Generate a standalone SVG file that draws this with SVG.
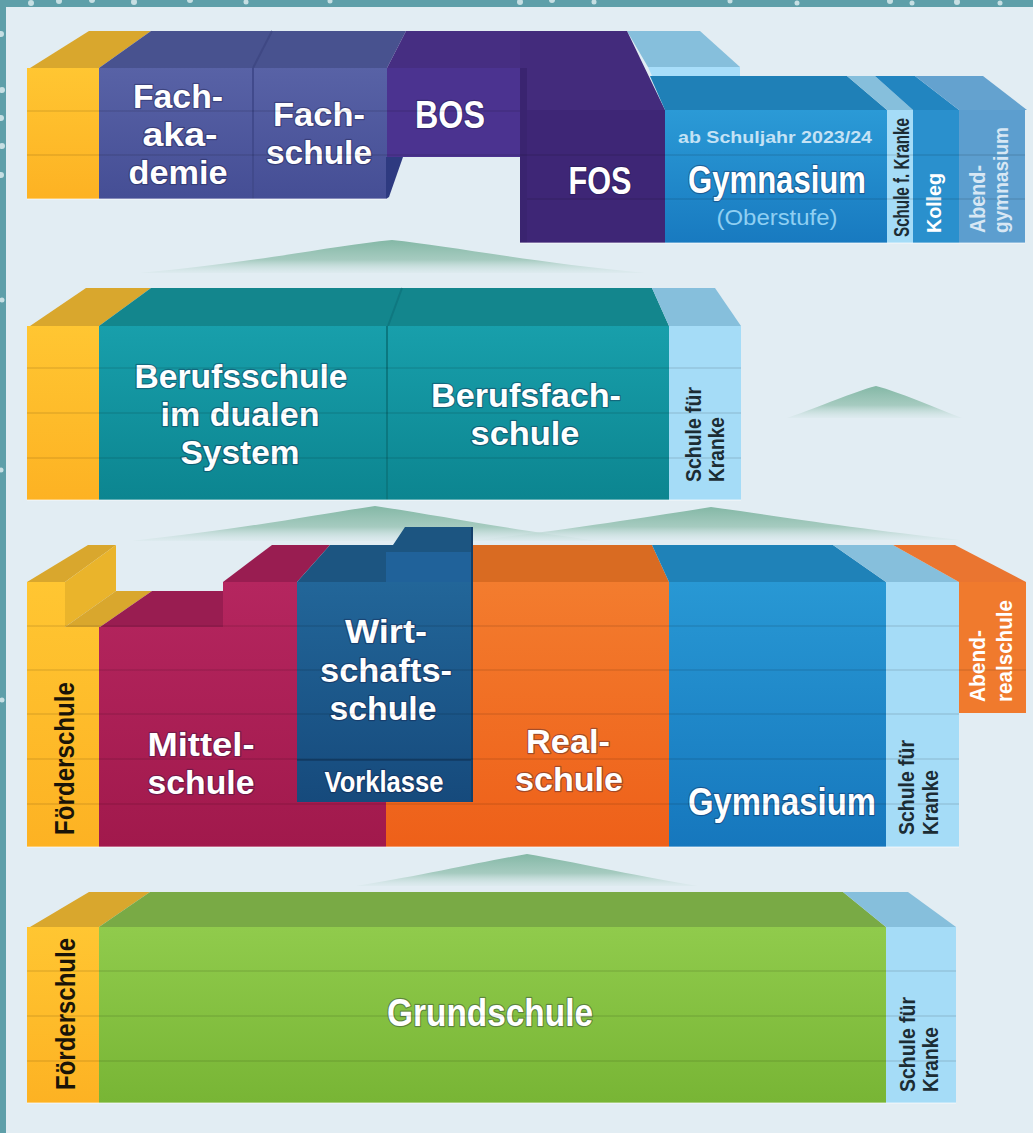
<svg xmlns="http://www.w3.org/2000/svg" width="1033" height="1133" viewBox="0 0 1033 1133">
<defs>
<linearGradient id="gY" x1="0" y1="0" x2="0" y2="1"><stop offset="0" stop-color="#ffc632"/><stop offset="1" stop-color="#fdb223"/></linearGradient>
<linearGradient id="gFA" x1="0" y1="0" x2="0" y2="1"><stop offset="0" stop-color="#5862a6"/><stop offset="1" stop-color="#454e95"/></linearGradient>
<linearGradient id="gGym1" x1="0" y1="0" x2="0" y2="1"><stop offset="0" stop-color="#2b9ad6"/><stop offset="1" stop-color="#187ac0"/></linearGradient>
<linearGradient id="gTeal" x1="0" y1="0" x2="0" y2="1"><stop offset="0" stop-color="#189fab"/><stop offset="1" stop-color="#0c8590"/></linearGradient>
<linearGradient id="gRed" x1="0" y1="0" x2="0" y2="1"><stop offset="0" stop-color="#b5265f"/><stop offset="1" stop-color="#a1194c"/></linearGradient>
<linearGradient id="gWi" x1="0" y1="0" x2="0" y2="1"><stop offset="0" stop-color="#226699"/><stop offset="1" stop-color="#164a7c"/></linearGradient>
<linearGradient id="gOr" x1="0" y1="0" x2="0" y2="1"><stop offset="0" stop-color="#f37c2e"/><stop offset="1" stop-color="#ee6019"/></linearGradient>
<linearGradient id="gGym3" x1="0" y1="0" x2="0" y2="1"><stop offset="0" stop-color="#2898d4"/><stop offset="1" stop-color="#1677bd"/></linearGradient>
<linearGradient id="gGr" x1="0" y1="0" x2="0" y2="1"><stop offset="0" stop-color="#90cb4c"/><stop offset="1" stop-color="#78b535"/></linearGradient>
<linearGradient id="gMound" x1="0" y1="0" x2="0" y2="1"><stop offset="0" stop-color="#84b8a6"/><stop offset="0.6" stop-color="#a6cbc0"/><stop offset="1" stop-color="#d6e7e9" stop-opacity="0.4"/></linearGradient>
</defs>
<style>
.lbl{font-family:"Liberation Sans Narrow","Liberation Sans",Arial,sans-serif;font-weight:bold;fill:#ffffff;text-anchor:middle;font-size:38px;stroke:rgba(20,20,60,0.35);stroke-width:2.5px;paint-order:stroke;stroke-linejoin:round}
.ml{font-size:33.5px}
.sm{font-size:17px;fill:#c4e2f5;stroke:none}
.ob{font-size:22px;font-weight:normal;fill:#8fcff2;stroke:none}
.vt{font-family:"Liberation Sans Narrow","Liberation Sans",Arial,sans-serif;font-weight:bold;font-size:22px;text-anchor:start}
.dk{fill:#1c2c34}
.fd{fill:#1a1408;font-size:28px}
.wh{fill:#ffffff}
.ag{fill:#d7e7f4}
.row{stroke:#000000;stroke-opacity:0.08;stroke-width:2;fill:none}
.edge{fill:#ffffff;fill-opacity:0.35}
.mound{fill:url(#gMound)}
</style>

<rect x="0" y="0" width="1033" height="1133" fill="#e2edf3"/>
<g id="frame">
<rect x="0" y="0" width="1033" height="7" fill="#5e9fa9"/>
<rect x="0" y="0" width="6" height="1133" fill="#5e9fa9"/>
<g fill="#c6dfe3">
<circle cx="31" cy="3" r="3"/><circle cx="59" cy="1" r="3"/><circle cx="92" cy="0" r="3"/><circle cx="134" cy="2" r="3"/><circle cx="190" cy="0" r="3"/><circle cx="246" cy="2" r="2.5"/><circle cx="330" cy="1" r="2.5"/><circle cx="520" cy="2" r="3"/><circle cx="552" cy="0" r="3"/><circle cx="594" cy="2" r="2.5"/><circle cx="730" cy="1" r="2.5"/><circle cx="797" cy="3" r="2.5"/><circle cx="890" cy="1" r="3"/><circle cx="912" cy="3" r="2.5"/><circle cx="957" cy="2" r="3"/><circle cx="1000" cy="3" r="2.5"/>
<circle cx="1" cy="34" r="3"/><circle cx="2" cy="90" r="3"/><circle cx="1" cy="118" r="3"/><circle cx="2" cy="146" r="3"/><circle cx="1" cy="175" r="3"/><circle cx="2" cy="300" r="2.5"/><circle cx="1" cy="470" r="2.5"/><circle cx="2" cy="700" r="2.5"/>
</g>
</g>

<g id="connectors">
<path class="mound" d="M140,273 C260,262 330,246 392,240 C450,246 530,262 645,273 Z"/>
<path class="mound" d="M787,418 C825,405 850,393 876,386 C902,393 928,405 962,418 Z"/>
<path class="mound" d="M132,541 C250,528 320,514 375,506 C430,514 500,528 600,541 Z"/>
<path class="mound" d="M480,540 C580,528 660,515 711,507 C770,515 850,528 960,540 Z"/>
<path class="mound" d="M356,886 C430,874 480,862 527,854 C575,862 625,874 698,886 Z"/>
</g>

<!-- TIER 1 -->
<g id="t1-back">
<polygon points="627,31 700,31 740,67 648,67" fill="#86bfdc"/>
<polygon points="648,67 740,67 740,76 652,76" fill="#a8defa"/>
</g>
<g id="t1-foerderschule">
<polygon points="30,68 89,31 151,31 99,68" fill="#d9a72d"/>
<rect x="27" y="68" width="72" height="131" fill="url(#gY)"/>
</g>
<g id="t1-fachakademie-fachschule">
<polygon points="99,68 151,31 406,31 387,68" fill="#48528f"/>
<line x1="253" y1="68" x2="272" y2="31" stroke="#3f4884" stroke-width="2"/>
<rect x="99" y="68" width="288" height="131" fill="url(#gFA)"/>
<line x1="253" y1="68" x2="253" y2="199" stroke="#414a8c" stroke-width="2"/>
<polygon points="386,157 403,157 389,197 386,199" fill="#2e3a80"/>
<text class="lbl ml"><tspan x="178" y="108" textLength="90" lengthAdjust="spacingAndGlyphs">Fach-</tspan><tspan x="180" y="146" textLength="75" lengthAdjust="spacingAndGlyphs">aka-</tspan><tspan x="178" y="184" textLength="99" lengthAdjust="spacingAndGlyphs">demie</tspan></text>
<text class="lbl ml"><tspan x="319" y="126" textLength="92" lengthAdjust="spacingAndGlyphs">Fach-</tspan><tspan x="319" y="164" textLength="106" lengthAdjust="spacingAndGlyphs">schule</tspan></text>
</g>
<g id="t1-bos">
<polygon points="387,68 406,31 520,31 520,68" fill="#462e82"/>
<rect x="387" y="68" width="133" height="89" fill="#4b3390"/>
<text class="lbl" x="450" y="128" textLength="70" lengthAdjust="spacingAndGlyphs">BOS</text>
</g>
<g id="t1-fos">
<polygon points="520,31 627,31 665,110 527,110 527,68 520,68" fill="#432b7c"/>
<rect x="520" y="68" width="7" height="175" fill="#3a2470"/>
<rect x="527" y="110" width="138" height="133" fill="#3e2676"/>
<text class="lbl" x="600" y="194" textLength="63" lengthAdjust="spacingAndGlyphs">FOS</text>
</g>
<g id="t1-gymnasium">
<polygon points="650,76 847,76 887,110 665,110" fill="#1f80b7"/>
<rect x="665" y="110" width="222" height="133" fill="url(#gGym1)"/>
<text class="lbl sm" x="775" y="143" textLength="194" lengthAdjust="spacingAndGlyphs">ab Schuljahr 2023/24</text>
<text class="lbl" x="777" y="193" textLength="178" lengthAdjust="spacingAndGlyphs">Gymnasium</text>
<text class="lbl ob" x="777" y="225" textLength="121" lengthAdjust="spacingAndGlyphs">(Oberstufe)</text>
</g>
<g id="t1-schule-kranke">
<polygon points="847,76 875,76 913,110 887,110" fill="#86bfdc"/>
<rect x="887" y="110" width="26" height="133" fill="#a5dcf7"/>
<text class="vt dk" transform="translate(909,237) rotate(-90)" textLength="119" lengthAdjust="spacingAndGlyphs">Schule f. Kranke</text>
</g>
<g id="t1-kolleg">
<polygon points="875,76 915,76 959,110 913,110" fill="#2285c0"/>
<rect x="913" y="110" width="46" height="133" fill="#2a90cd"/>
<text class="vt wh" style="font-size:20px" transform="translate(941,233) rotate(-90)" textLength="60" lengthAdjust="spacingAndGlyphs">Kolleg</text>
</g>
<g id="t1-abendgymnasium">
<polygon points="915,76 983,76 1027,110 959,110" fill="#64a2cf"/>
<rect x="959" y="110" width="66" height="133" fill="#5c9ecf"/>
<text class="vt ag" transform="translate(985,233) rotate(-90)" textLength="68" lengthAdjust="spacingAndGlyphs">Abend-</text>
<text class="vt ag" style="font-size:20px" transform="translate(1008,233) rotate(-90)" textLength="106" lengthAdjust="spacingAndGlyphs">gymnasium</text>
</g>
<g id="t1-rows">
<line class="row" x1="27" y1="111" x2="520" y2="111"/>
<line class="row" x1="27" y1="155" x2="1025" y2="155"/>
<line class="row" x1="527" y1="199" x2="1025" y2="199"/>
<rect class="edge" x="27" y="198" width="360" height="2"/>
<rect class="edge" x="520" y="242" width="505" height="2"/>
</g>

<!-- TIER 2 -->
<g id="t2-foerderschule">
<polygon points="30,326 86,288 151,288 99,326" fill="#d9a72d"/>
<rect x="27" y="326" width="72" height="174" fill="url(#gY)"/>
</g>
<g id="t2-berufsschule-berufsfachschule">
<polygon points="99,326 151,288 652,288 669,326" fill="#13868d"/>
<line x1="388" y1="326" x2="402" y2="288" stroke="#0f7880" stroke-width="2"/>
<rect x="99" y="326" width="570" height="174" fill="url(#gTeal)"/>
<line x1="387" y1="326" x2="387" y2="500" stroke="#0b7880" stroke-width="2"/>
<text class="lbl ml"><tspan x="241" y="388" textLength="213" lengthAdjust="spacingAndGlyphs">Berufsschule</tspan><tspan x="240" y="426" textLength="159" lengthAdjust="spacingAndGlyphs">im dualen</tspan><tspan x="240" y="464" textLength="119" lengthAdjust="spacingAndGlyphs">System</tspan></text>
<text class="lbl ml"><tspan x="526" y="407" textLength="190" lengthAdjust="spacingAndGlyphs">Berufsfach-</tspan><tspan x="525" y="445" textLength="109" lengthAdjust="spacingAndGlyphs">schule</tspan></text>
</g>
<g id="t2-schule-kranke">
<polygon points="652,288 715,288 741,326 669,326" fill="#86bfdc"/>
<rect x="669" y="326" width="72" height="174" fill="#a5dcf7"/>
<text class="vt dk" transform="translate(701,482) rotate(-90)" textLength="95" lengthAdjust="spacingAndGlyphs">Schule für</text>
<text class="vt dk" transform="translate(724,482) rotate(-90)" textLength="65" lengthAdjust="spacingAndGlyphs">Kranke</text>
</g>
<g id="t2-rows">
<line class="row" x1="27" y1="368" x2="741" y2="368"/>
<line class="row" x1="27" y1="413" x2="741" y2="413"/>
<line class="row" x1="27" y1="458" x2="741" y2="458"/>
<rect class="edge" x="27" y="499" width="714" height="2"/>
</g>

<!-- TIER 3 -->
<g id="t3-foerderschule">
<polygon points="27,582 65,582 65,627 99,627 99,847 27,847" fill="url(#gY)"/>
<polygon points="27,582 88,545 116,545 65,582" fill="#d9a72d"/>
<polygon points="65,582 116,545 116,591 65,627" fill="#eab42b"/>
<polygon points="65,627 116,591 152,591 100,627" fill="#d9a72d"/>
<text class="vt fd" transform="translate(74,835) rotate(-90)" textLength="153" lengthAdjust="spacingAndGlyphs">Förderschule</text>
</g>
<g id="t3-mittelschule">
<polygon points="100,627 152,591 223,591 223,627" fill="#991d51"/>
<polygon points="223,582 272,545 330,545 297,582" fill="#991d51"/>
<polygon points="99,627 223,627 223,582 297,582 297,802 386,802 386,847 99,847" fill="url(#gRed)"/>
<text class="lbl ml"><tspan x="201" y="756" textLength="107" lengthAdjust="spacingAndGlyphs">Mittel-</tspan><tspan x="201" y="794" textLength="107" lengthAdjust="spacingAndGlyphs">schule</tspan></text>
</g>
<g id="t3-realschule">
<polygon points="473,545 652,545 669,582 473,582" fill="#d96b22"/>
<polygon points="473,582 669,582 669,847 386,847 386,802 473,802" fill="url(#gOr)"/>
<text class="lbl ml"><tspan x="568" y="753" textLength="84" lengthAdjust="spacingAndGlyphs">Real-</tspan><tspan x="569" y="791" textLength="108" lengthAdjust="spacingAndGlyphs">schule</tspan></text>
</g>
<g id="t3-wirtschaftsschule">
<polygon points="297,582 330,545 393,545 405,527 473,527 473,582" fill="#1c5581"/>
<rect x="386" y="552" width="87" height="30" fill="#20629a"/>
<rect x="297" y="582" width="176" height="220" fill="url(#gWi)"/>
<line x1="297" y1="760" x2="473" y2="760" stroke="#133f6a" stroke-width="2"/>
<line x1="472" y1="527" x2="472" y2="802" stroke="#133f6a" stroke-width="2"/>
<text class="lbl ml"><tspan x="386" y="643" textLength="82" lengthAdjust="spacingAndGlyphs">Wirt-</tspan><tspan x="386" y="682" textLength="132" lengthAdjust="spacingAndGlyphs">schafts-</tspan><tspan x="383" y="720" textLength="107" lengthAdjust="spacingAndGlyphs">schule</tspan></text>
<text class="lbl" style="font-size:29px" x="384" y="792" textLength="119" lengthAdjust="spacingAndGlyphs">Vorklasse</text>
</g>
<g id="t3-gymnasium">
<polygon points="652,545 833,545 886,582 669,582" fill="#1f82b8"/>
<rect x="669" y="582" width="217" height="265" fill="url(#gGym3)"/>
<text class="lbl" x="782" y="815" textLength="188" lengthAdjust="spacingAndGlyphs">Gymnasium</text>
</g>
<g id="t3-schule-kranke">
<polygon points="833,545 893,545 959,582 886,582" fill="#86bfdc"/>
<rect x="886" y="582" width="73" height="265" fill="#a5dcf7"/>
<text class="vt dk" transform="translate(914,835) rotate(-90)" textLength="95" lengthAdjust="spacingAndGlyphs">Schule für</text>
<text class="vt dk" transform="translate(938,835) rotate(-90)" textLength="65" lengthAdjust="spacingAndGlyphs">Kranke</text>
</g>
<g id="t3-abendrealschule">
<polygon points="893,545 955,545 1026,582 959,582" fill="#ea7530"/>
<rect x="959" y="582" width="67" height="131" fill="#f07a2d"/>
<text class="vt wh" transform="translate(985,702) rotate(-90)" textLength="72" lengthAdjust="spacingAndGlyphs">Abend-</text>
<text class="vt wh" transform="translate(1012,702) rotate(-90)" textLength="102" lengthAdjust="spacingAndGlyphs">realschule</text>
</g>
<g id="t3-rows">
<line class="row" x1="27" y1="670" x2="1026" y2="670"/>
<line class="row" x1="27" y1="714" x2="959" y2="714"/>
<line class="row" x1="27" y1="759" x2="959" y2="759"/>
<line class="row" x1="27" y1="804" x2="959" y2="804"/>
<line class="row" x1="27" y1="626" x2="959" y2="626"/>
<rect class="edge" x="27" y="846" width="932" height="2"/>
</g>

<!-- TIER 4 -->
<g id="t4-foerderschule">
<polygon points="30,927 89,892 150,892 99,927" fill="#d9a72d"/>
<rect x="27" y="927" width="72" height="176" fill="url(#gY)"/>
<text class="vt fd" transform="translate(75,1090) rotate(-90)" textLength="152" lengthAdjust="spacingAndGlyphs">Förderschule</text>
</g>
<g id="t4-grundschule">
<polygon points="99,927 150,892 843,892 886,927" fill="#79aa45"/>
<rect x="99" y="927" width="787" height="176" fill="url(#gGr)"/>
<text class="lbl" x="490" y="1026" textLength="206" lengthAdjust="spacingAndGlyphs">Grundschule</text>
</g>
<g id="t4-schule-kranke">
<polygon points="843,892 908,892 956,927 886,927" fill="#86bfdc"/>
<rect x="886" y="927" width="70" height="176" fill="#a5dcf7"/>
<text class="vt dk" transform="translate(915,1092) rotate(-90)" textLength="95" lengthAdjust="spacingAndGlyphs">Schule für</text>
<text class="vt dk" transform="translate(938,1092) rotate(-90)" textLength="65" lengthAdjust="spacingAndGlyphs">Kranke</text>
</g>
<g id="t4-rows">
<line class="row" x1="27" y1="971" x2="956" y2="971"/>
<line class="row" x1="27" y1="1016" x2="956" y2="1016"/>
<line class="row" x1="27" y1="1061" x2="956" y2="1061"/>
<rect class="edge" x="27" y="1102" width="929" height="2"/>
</g>
</svg>
